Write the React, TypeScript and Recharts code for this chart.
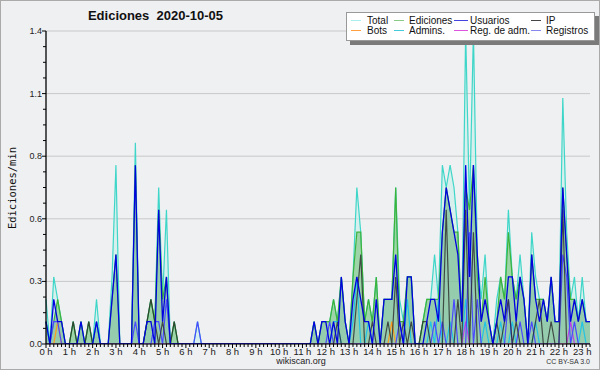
import React from 'react';
import { ComposedChart, Area, Line, XAxis, YAxis, CartesianGrid } from 'recharts';

// counts per 10-minute bucket (divided by 10 to get edits/min), 00:00 .. 23:20
const total = [
  2, 0, 3, 2, 1, 0, 0, 1, 0, 1, 0, 1,
  0, 2, 0, 0, 0, 3, 8, 0, 0, 0, 0, 9,
  0, 0, 1, 2, 1, 7, 2, 6, 0, 1, 0, 0,
  0, 0, 0, 1, 0, 0, 0, 0, 0, 0, 0, 0,
  0, 0, 0, 0, 0, 0, 0, 0, 0, 0, 0, 0,
  0, 0, 0, 0, 0, 0, 0, 0, 0, 1, 0, 1,
  1, 1, 2, 1, 3, 1, 0, 3, 7, 5, 1, 2,
  1, 3, 0, 2, 2, 2, 7, 2, 1, 3, 3, 0,
  0, 1, 2, 2, 4, 2, 8, 7, 8, 7, 5, 1,
  14, 6, 14, 4, 2, 4, 1, 0, 2, 3, 2, 6,
  3, 2, 4, 2, 0, 5, 3, 2, 2, 1, 3, 1,
  1, 11, 5, 2, 3, 1, 3, 1, 1,
];

const ediciones = [
  1, 0, 1, 2, 1, 0, 0, 1, 0, 1, 0, 1,
  0, 1, 0, 0, 0, 2, 4, 0, 0, 0, 0, 8,
  0, 0, 1, 2, 1, 6, 2, 3, 0, 1, 0, 0,
  0, 0, 0, 0, 0, 0, 0, 0, 0, 0, 0, 0,
  0, 0, 0, 0, 0, 0, 0, 0, 0, 0, 0, 0,
  0, 0, 0, 0, 0, 0, 0, 0, 0, 1, 0, 1,
  1, 1, 2, 1, 3, 1, 0, 3, 5, 5, 1, 2,
  1, 3, 0, 2, 2, 2, 7, 1, 1, 3, 3, 0,
  0, 1, 2, 2, 2, 2, 5, 7, 6, 5, 5, 1,
  7, 6, 8, 3, 1, 3, 1, 0, 1, 3, 2, 5,
  3, 2, 3, 2, 0, 4, 2, 2, 2, 1, 3, 1,
  1, 7, 4, 2, 2, 1, 2, 1, 1,
];

const usuarios = [
  1, 0, 2, 1, 1, 0, 0, 0, 0, 1, 0, 0,
  0, 1, 0, 0, 0, 2, 4, 0, 0, 0, 0, 8,
  0, 0, 1, 1, 0, 6, 1, 3, 0, 0, 0, 0,
  0, 0, 0, 0, 0, 0, 0, 0, 0, 0, 0, 0,
  0, 0, 0, 0, 0, 0, 0, 0, 0, 0, 0, 0,
  0, 0, 0, 0, 0, 0, 0, 0, 0, 1, 0, 1,
  1, 0, 1, 0, 3, 1, 0, 2, 3, 2, 1, 1,
  0, 2, 0, 2, 2, 2, 4, 1, 0, 3, 3, 0,
  0, 0, 1, 2, 2, 1, 5, 7, 6, 5, 4, 1,
  8, 3, 8, 4, 1, 2, 1, 0, 1, 2, 1, 3,
  3, 1, 3, 2, 0, 4, 2, 1, 2, 1, 3, 1,
  1, 7, 4, 1, 2, 1, 2, 1, 1,
];

// sparse series: [bucket, count]
const ip = [
  [7, 1], [11, 1], [26, 1], [27, 2], [28, 1], [30, 1], [33, 1], [75, 1], [80, 2], [81, 4],
  [84, 1], [88, 1], [90, 3], [92, 1], [94, 1], [97, 1], [98, 1], [103, 6], [106, 2], [108, 6],
  [110, 5], [116, 1], [118, 1], [119, 2], [121, 1], [126, 1], [127, 2], [130, 1], [133, 6],
];
const admins = [
  [0, 1], [13, 1], [74, 1], [75, 1], [79, 1], [80, 3], [83, 1], [93, 2], [99, 1], [101, 2],
  [104, 1], [108, 2], [113, 1], [117, 1], [120, 1], [126, 1], [138, 1],
];
const registros = [
  [2, 1], [3, 1], [23, 1], [28, 1], [29, 1], [31, 2], [39, 1], [73, 1], [91, 1], [100, 1],
  [102, 1], [105, 2], [109, 5], [111, 2], [119, 2], [122, 1], [125, 1], [133, 4], [134, 3], [136, 1],
];
const bots = [[3, 1], [89, 1]];
const regAdm = [[108, 1], [135, 1]];

const yMajor = [0, 0.28, 0.56, 0.84, 1.12, 1.4];
const yMinor = [
  0, 0.07, 0.14, 0.21, 0.28, 0.35, 0.42, 0.49, 0.56, 0.63, 0.7,
  0.77, 0.84, 0.91, 0.98, 1.05, 1.12, 1.19, 1.26, 1.33, 1.4,
];

const legendItems = [
  { name: 'Total', color: '#aaeeee', col: 0, row: 0 },
  { name: 'Ediciones', color: '#88cc88', col: 1, row: 0 },
  { name: 'Usuarios', color: '#4444dd', col: 2, row: 0 },
  { name: 'IP', color: '#444444', col: 3, row: 0 },
  { name: 'Bots', color: '#ffa040', col: 0, row: 1 },
  { name: 'Admins.', color: '#44ccdd', col: 1, row: 1 },
  { name: 'Reg. de adm.', color: '#dd55dd', col: 2, row: 1 },
  { name: 'Registros', color: '#8888ee', col: 3, row: 1 },
];
const legendCols = [{ line: 4, w: 10, text: 20 }, { line: 47, w: 10, text: 62 }, { line: 107, w: 14, text: 123 }, { line: 184, w: 10, text: 199 }];

const data = total.map((t, i) => ({
  i,
  total: t / 10,
  ediciones: ediciones[i] / 10,
  usuarios: usuarios[i] / 10,
  ip: 0,
  admins: 0,
  registros: 0,
  bots: 0,
  regAdm: 0,
}));
const fill = (key, pairs) => pairs.forEach(([i, v]) => { data[i][key] = v / 10; });
fill('ip', ip);
fill('admins', admins);
fill('registros', registros);
fill('bots', bots);
fill('regAdm', regAdm);

const FONT = '"Liberation Sans", Arial, sans-serif';

const XTick = ({ x, y, payload }) => {
  const major = payload.value % 6 === 0;
  return (
    <g>
      <line x1={x} x2={x} y1={y} y2={y + (major ? 4 : 3)} stroke="#000" />
      {major && (
        <text x={x} y={y + 11} textAnchor="middle" fontSize={9.5} fontFamily={FONT} fill="#222">
          {`${payload.value / 6} h`}
        </text>
      )}
    </g>
  );
};

const YTick = ({ x, y, payload }) => {
  const major = yMajor.some((v) => Math.abs(v - payload.value) < 1e-6);
  return (
    <g>
      <line x1={x - (major ? 4 : 3)} x2={x} y1={y} y2={y} stroke="#000" />
      {major && (
        <text x={x - 4} y={y + 3} textAnchor="end" fontSize={9} fontFamily={FONT} fill="#222">
          {payload.value.toFixed(1)}
        </text>
      )}
    </g>
  );
};

export default function App() {
  return (
    <div
      style={{
        position: 'absolute', left: 0, top: 0, width: 600, height: 370,
        background: '#eff0f2', border: '1px solid #aaaaaa', boxSizing: 'border-box', fontFamily: FONT,
      }}
    >
      <div style={{ position: 'absolute', left: -1, top: -1 }}>
        <ComposedChart width={600} height={370} data={data} margin={{ top: 31, right: 10, bottom: 0, left: 0 }}>
          <CartesianGrid vertical={false} stroke="#c8c8c8" horizontalValues={yMajor} />
          <XAxis
            dataKey="i"
            type="number"
            domain={[0, 140]}
            ticks={data.map((d) => d.i)}
            interval={0}
            height={26}
            tickSize={0}
            tickMargin={0}
            tickLine={false}
            tick={<XTick />}
            axisLine={{ stroke: '#000' }}
          />
          <YAxis
            type="number"
            domain={[0, 1.4]}
            ticks={yMinor}
            interval={0}
            width={46}
            tickSize={0}
            tickMargin={0}
            tickLine={false}
            tick={<YTick />}
            axisLine={{ stroke: '#000', strokeWidth: 1.3 }}
            allowDataOverflow
          />
          <Area type="linear" dataKey="total" stroke="#3ed6c8" strokeWidth={1.2} fill="#c8f0ea" fillOpacity={0.6} isAnimationActive={false} />
          <Area type="linear" dataKey="ediciones" stroke="#3cb43c" strokeWidth={1.2} fill="#4cb04c" fillOpacity={0.42} isAnimationActive={false} />
          <Area type="linear" dataKey="usuarios" stroke="none" fill="#2040ff" fillOpacity={0.06} isAnimationActive={false} />
          <Line type="linear" dataKey="admins" stroke="#22c4e4" strokeWidth={1.2} dot={false} isAnimationActive={false} />
          <Line type="linear" dataKey="bots" stroke="#ff9a1a" strokeWidth={1.2} dot={false} isAnimationActive={false} />
          <Line type="linear" dataKey="regAdm" stroke="#c040e8" strokeWidth={1.2} dot={false} isAnimationActive={false} />
          <Line type="linear" dataKey="registros" stroke="#4a4aff" strokeWidth={1.2} dot={false} isAnimationActive={false} />
          <Line type="linear" dataKey="ip" stroke="#2a2a2a" strokeOpacity={0.8} strokeWidth={1.2} dot={false} isAnimationActive={false} />
          <Line type="linear" dataKey="usuarios" stroke="#0000e0" strokeWidth={1.3} dot={false} isAnimationActive={false} />
        </ComposedChart>
      </div>

      <div style={{ position: 'absolute', left: 0, width: 309, top: 7, textAlign: 'center', fontWeight: 'bold', fontSize: 13, whiteSpace: 'pre', color: '#111' }}>
        {'Ediciones  2020-10-05'}
      </div>

      <div
        style={{
          position: 'absolute', left: 11, top: 187, transform: 'translate(-50%, -50%) rotate(-90deg)',
          fontFamily: '"DejaVu Sans Mono", monospace', fontSize: 10.5, whiteSpace: 'nowrap', color: '#111',
        }}
      >
        Ediciones/min
      </div>

      <div
        style={{
          position: 'absolute', left: 345, top: 11, width: 247, height: 27, background: '#fff',
          border: '1px solid #999', boxShadow: '4px 4px 0 #7a7a7a',
        }}
      >
        {legendItems.map((it) => {
          const c = legendCols[it.col];
          const top = 2 + it.row * 10;
          return (
            <React.Fragment key={it.name}>
              <div style={{ position: 'absolute', left: c.line, top: top + 5, width: c.w, height: 1, background: it.color }} />
              <div style={{ position: 'absolute', left: c.text, top, fontSize: 10, lineHeight: '11px', color: '#111', whiteSpace: 'nowrap' }}>
                {it.name}
              </div>
            </React.Fragment>
          );
        })}
      </div>

      <div style={{ position: 'absolute', left: 0, width: 600, top: 355, textAlign: 'center', fontSize: 9, color: '#222' }}>wikiscan.org</div>
      <div style={{ position: 'absolute', right: 9, top: 357, fontSize: 7, color: '#333' }}>CC BY-SA 3.0</div>
    </div>
  );
}
